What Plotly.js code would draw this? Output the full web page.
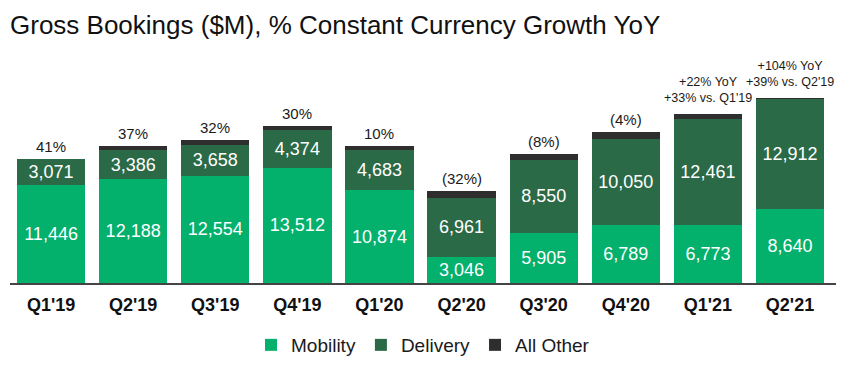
<!DOCTYPE html>
<html>
<head>
<meta charset="utf-8">
<script src="https://cdn.plot.ly/plotly-3.0.1.min.js"></script>
<style>
  html, body { margin: 0; padding: 0; background: #ffffff; }
  #chart { width: 863px; height: 376px; }
</style>
</head>
<body>
<div id="chart"></div>
<script>
const categories = ["Q1'19", "Q2'19", "Q3'19", "Q4'19", "Q1'20", "Q2'20", "Q3'20", "Q4'20", "Q1'21", "Q2'21"];
const mobility = [11446, 12188, 12554, 13512, 10874, 3046, 5905, 6789, 6773, 8640];
const delivery = [3071, 3386, 3658, 4374, 4683, 6961, 8550, 10050, 12461, 12912];
const allOther = [0, 470, 560, 560, 470, 760, 700, 820, 590, 150];
const growthLabels = ["41%", "37%", "32%", "30%", "10%", "(32%)", "(8%)", "(4%)",
  "+22% YoY<br>+33% vs. Q1'19", "+104% YoY<br>+39% vs. Q2'19"];

const FONT = "Liberation Sans, Arial, sans-serif";
const fmt = v => v.toLocaleString("en-US");

const barText = {
  textposition: "inside",
  insidetextanchor: "middle",
  constraintext: "none",
  textangle: 0,
  textfont: { color: "#ffffff", size: 18, family: FONT },
  hoverinfo: "x+y+name"
};

const traces = [
  Object.assign({
    type: "bar", name: "Mobility", x: categories, y: mobility,
    text: mobility.map(fmt), marker: { color: "#03b06c" }
  }, barText),
  Object.assign({
    type: "bar", name: "Delivery", x: categories, y: delivery,
    text: delivery.map(fmt), marker: { color: "#2b6a47" }
  }, barText),
  {
    type: "bar", name: "All Other", x: categories, y: allOther,
    marker: { color: "#2e2e2e" }, hoverinfo: "x+y+name"
  }
];

const totals = categories.map((c, i) => mobility[i] + delivery[i] + allOther[i]);

const annotations = categories.map((c, i) => {
  const multi = growthLabels[i].indexOf("<br>") >= 0;
  return {
    x: c, y: totals[i], xref: "x", yref: "y",
    text: growthLabels[i], showarrow: false,
    yanchor: "bottom", xanchor: "center", yshift: multi ? 7 : 2,
    align: "center",
    font: { family: FONT, size: multi ? 12.5 : 15, color: "#1a1a1a" }
  };
});

const layout = {
  width: 863, height: 376,
  paper_bgcolor: "#ffffff", plot_bgcolor: "#ffffff",
  font: { family: FONT, color: "#1a1a1a" },
  title: {
    text: "Gross Bookings ($M), % Constant Currency Growth YoY",
    font: { family: FONT, size: 26, color: "#111111" },
    xref: "container", x: 10 / 863, xanchor: "left",
    yref: "container", y: 1 - 25 / 376, yanchor: "middle"
  },
  barmode: "stack",
  bargap: 0.168,
  margin: { l: 10, r: 27, t: 60, b: 93 },
  showlegend: true,
  legend: {
    orientation: "h", x: 0.5, xanchor: "center",
    y: -(345 - 283) / 223, yanchor: "middle",
    traceorder: "normal",
    font: { family: FONT, size: 19, color: "#1a1a1a" }
  },
  xaxis: {
    type: "category",
    showline: true, linecolor: "#444444", linewidth: 1.5,
    showgrid: false, zeroline: false, ticks: "",
    ticklabelstandoff: 5,
    tickfont: { family: FONT, size: 18, color: "#111111", weight: "bold" },
    fixedrange: true
  },
  yaxis: {
    range: [0, 26136],
    visible: false, showgrid: false, zeroline: false, fixedrange: true
  },
  annotations: annotations
};

Plotly.newPlot("chart", traces, layout, { displayModeBar: false, staticPlot: true });
</script>
</body>
</html>
